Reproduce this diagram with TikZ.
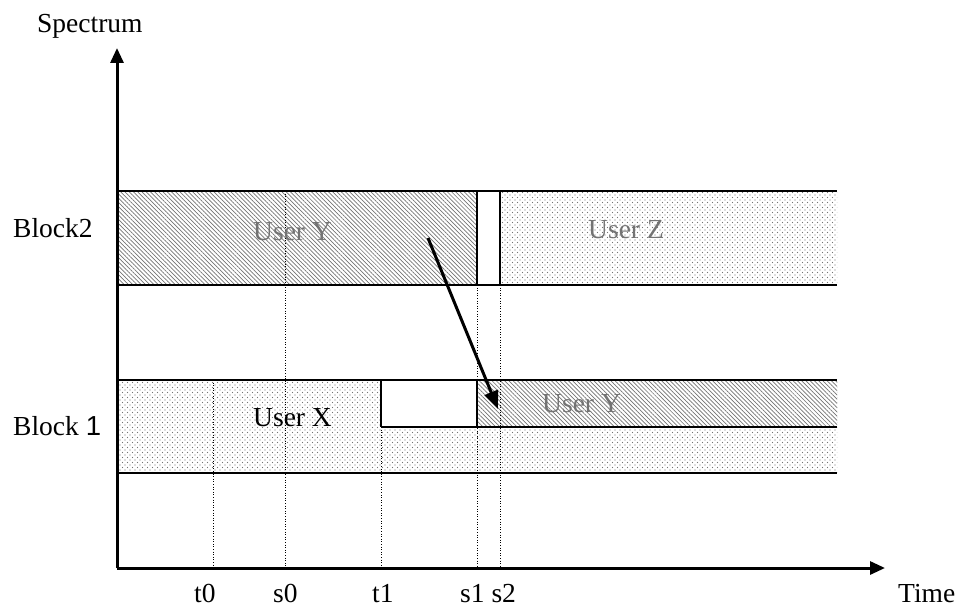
\documentclass[tikz,border=0pt]{standalone}
\usepackage{fontspec}
\setmainfont{Liberation Serif}
\newfontfamily\arialfont{Liberation Sans}
\usetikzlibrary{patterns,patterns.meta,arrows.meta}
\begin{document}
\begin{tikzpicture}[x=1pt,y=-1pt,
  lbl/.style={anchor=base west,inner sep=0pt,font=\fontsize{27.5}{30}\selectfont},
  glbl/.style={lbl,text=black!55},
  hatchfill/.style={pattern={Lines[angle=-45,distance=3pt,line width=0.7pt]},pattern color=black!55},
  dotfill/.style={pattern={Dots[distance=5pt,radius=0.7pt]},pattern color=black!55},
  dotfillb/.style={pattern={Dots[distance=5pt,radius=0.7pt,xshift=2.5pt,yshift=2.5pt]},pattern color=black!55},
  border/.style={line width=2.4pt},
  guide/.style={line width=1pt,dash pattern=on 1pt off 1.6pt},
  axis/.style={line width=3pt,-{Triangle[length=15pt,width=13pt]}}]
\useasboundingbox (0,0) rectangle (955,610);
% fills
\fill[hatchfill] (116,191) rectangle (477,285);
\fill[dotfill] (500,191) rectangle (837,285);
\fill[dotfillb] (500,191) rectangle (837,285);
\fill[dotfill] (116,380) rectangle (837,473);
\fill[dotfillb] (116,380) rectangle (837,473);
\fill[white] (381,380) rectangle (477,427);
\fill[white] (477,380) rectangle (837,427);
\fill[hatchfill] (477,380) rectangle (837,427);
% guide lines
\draw[guide] (213,380) -- (213,568);
\draw[guide] (285,191) -- (285,568);
\draw[guide] (381,427) -- (381,568);
\draw[guide] (477,285) -- (477,568);
\draw[guide] (500,285) -- (500,568);
% borders block2
\draw[border] (116,191) -- (837,191);
\draw[border] (116,285) -- (837,285);
\draw[border] (477,191) -- (477,285);
\draw[border] (500,191) -- (500,285);
% borders block1
\draw[border] (116,380) -- (837,380);
\draw[border] (116,473) -- (837,473);
\draw[border] (381,427) -- (837,427);
\draw[border] (381,380) -- (381,427);
\draw[border] (477,380) -- (477,427);
% axes
\coordinate (o) at (117,568);
\coordinate (ytip) at (117,48);
\coordinate (xtip) at (885,568);
\draw[axis] (o) -- (ytip);
\draw[axis] (o) -- (xtip);
% labels
\node[lbl] (spec) at (37,33) {Spectrum};
\node[lbl] (b2) at (13,237) {Block2};
\node[lbl] (b1) at (13,435) {Block {\arialfont 1}};
\node[glbl] (uy2) at (253,240) {User Y};
\node[glbl] (uz) at (588,238) {User Z};
\node[lbl] (ux) at (253,426) {User X};
\node[glbl] (uy1) at (542,412) {User Y};
\node[lbl] (t0) at (194,602) {t0};
\node[lbl] (s0) at (273,602) {s0};
\node[lbl] (t1) at (372,602) {t1};
\node[lbl] (s12) at (460,602) {s1 s2};
\node[lbl] (time) at (898,602) {Time};
% move arrow
\coordinate (mvA) at (428,238);
\coordinate (mvB) at (498,409);
\draw[line width=3pt,-{Triangle[length=18pt,width=14pt]}] (mvA) -- (mvB);
\end{tikzpicture}
\end{document}
